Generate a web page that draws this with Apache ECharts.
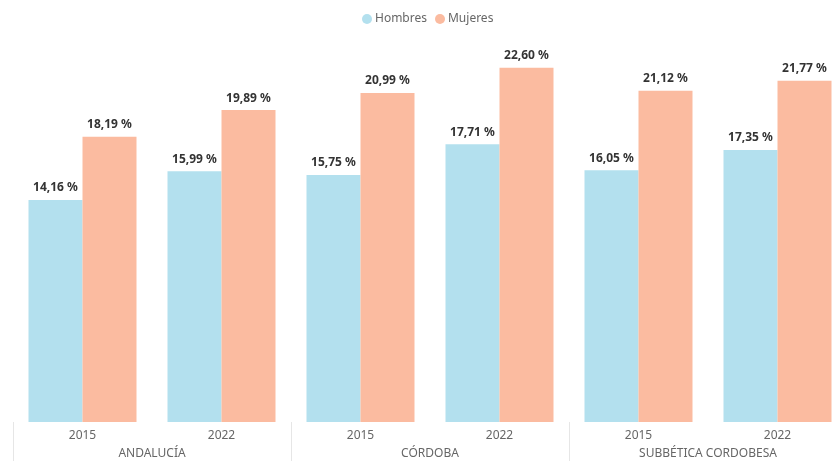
<!DOCTYPE html>
<html>
<head>
    <meta charset="utf-8">
    <title>Hombres / Mujeres</title>
    <style>
        html, body { margin: 0; padding: 0; background: #fff; overflow: hidden; }
        /* el gráfico original queda recortado por la derecha */
        #chart { width: 847px; height: 461px; }
    </style>
</head>
<body>
    <div id="chart"></div>
    <script src="https://cdn.jsdelivr.net/npm/echarts@6/dist/echarts.min.js"></script>
    <script>
        // datos
        var years = ['2015', '2022', '2015', '2022', '2015', '2022'];
        var zonas = ['ANDALUCÍA', 'CÓRDOBA', 'SUBBÉTICA CORDOBESA'];
        var hombres = [14.16, 15.99, 15.75, 17.71, 16.05, 17.35];
        var mujeres = [18.19, 19.89, 20.99, 22.60, 21.12, 21.77];

        var chart = echarts.init(document.getElementById('chart'));

        var fmt = function (p) {
            return p.value.toFixed(2).replace('.', ',') + ' %';
        };
        var labelCfg = {
            show: true,
            position: 'top',
            distance: 6,
            formatter: fmt,
            color: '#333',
            fontSize: 12,
            fontWeight: 'bold',
            fontFamily: 'Noto Sans'
        };

        var option = {
            animation: false,
            legend: {
                top: 8,
                left: 357,
                icon: 'circle',
                itemWidth: 10,
                itemHeight: 10,
                itemGap: 8,
                textStyle: { color: '#666', fontSize: 12, fontFamily: 'Noto Sans', padding: [0, 0, 0, -2] },
                data: ['Hombres', 'Mujeres']
            },
            grid: { left: 13, right: 0, top: 30, bottom: 39 },
            xAxis: [{
                type: 'category',
                data: years,
                axisLine: { show: false },
                axisTick: { show: false },
                axisLabel: { color: '#666', fontSize: 12, fontFamily: 'Noto Sans', margin: 8 }
            }, {
                type: 'category',
                data: zonas,
                position: 'bottom',
                axisLine: { show: false },
                axisTick: { show: true, length: 40, lineStyle: { color: '#e6e6e6' } },
                axisLabel: { color: '#666', fontSize: 12, fontFamily: 'Noto Sans', margin: 26 }
            }],
            yAxis: {
                type: 'value',
                min: 0,
                max: 25,
                show: false
            },
            series: [{
                name: 'Hombres',
                type: 'bar',
                xAxisIndex: 0,
                barWidth: 54,
                barGap: '0%',
                itemStyle: { color: '#b3e0ee' },
                label: labelCfg,
                data: hombres
            }, {
                name: 'Mujeres',
                type: 'bar',
                xAxisIndex: 0,
                barWidth: 54,
                barGap: '0%',
                itemStyle: { color: '#fbbba0' },
                label: labelCfg,
                data: mujeres
            }]
        };
        chart.setOption(option);
    </script>
</body>
</html>
